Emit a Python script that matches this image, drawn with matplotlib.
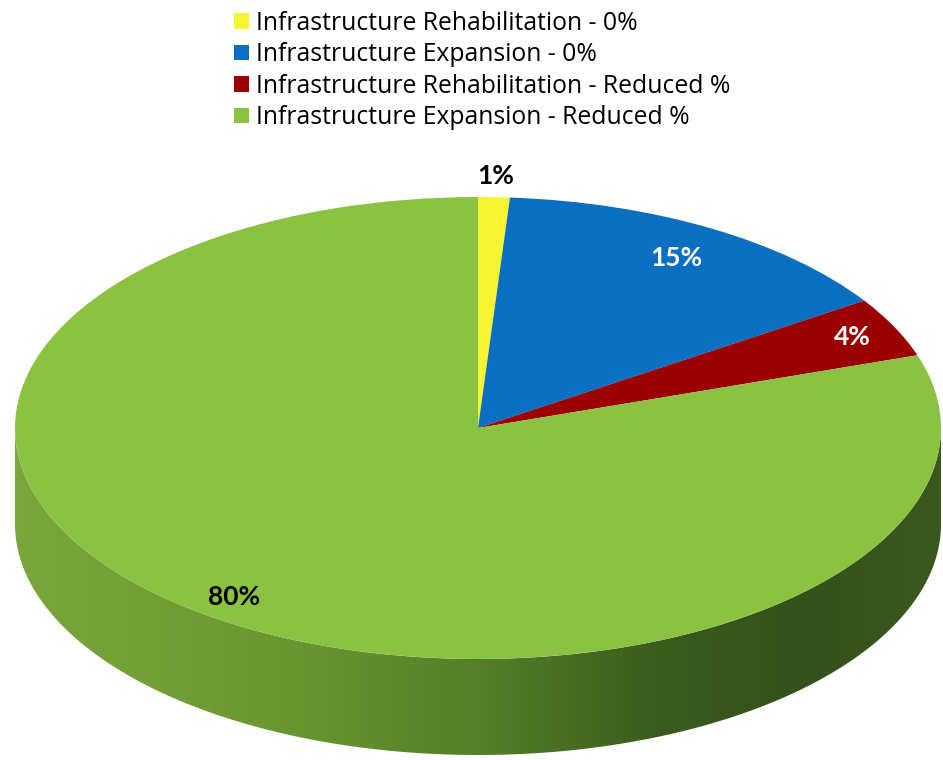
import matplotlib.pyplot as plt
import numpy as np
from matplotlib.colors import LinearSegmentedColormap
from matplotlib.patches import Polygon

# slice shares
labels = ['Infrastructure Rehabilitation - 0%',
          'Infrastructure Expansion - 0%',
          'Infrastructure Rehabilitation - Reduced %',
          'Infrastructure Expansion - Reduced %']
shares = [1.1, 14.6, 4.2, 80.1]
colors = ['#f7f531', '#0a6fc0', '#9a0000', '#8bc241']
label_colors = ['black', 'white', 'white', 'black']
label_radius = [1.09, 0.85, 0.9, 0.9]

W, H = 943, 760
fig = plt.figure(figsize=(W / 100, H / 100), dpi=100)
ax = fig.add_axes([0, 0, 1, 1])

# pixel geometry of the tilted pie
cx, cy = 478, 428
a, b = 463, 231
depth = 96 / b

wedges, texts, autotexts = ax.pie(
    shares, colors=colors, startangle=90, counterclock=False,
    autopct='%.0f%%', wedgeprops=dict(linewidth=0),
    textprops=dict(fontfamily='Lato', fontweight='bold', fontsize=19))
ax.set_aspect('auto')
ax.axis('off')

for w, t, r, c in zip(wedges, autotexts, label_radius, label_colors):
    w.set_zorder(3)
    mid = np.deg2rad((w.theta1 + w.theta2) / 2)
    t.set_position((r * np.cos(mid), r * np.sin(mid)))
    t.set_color(c)
    t.set_zorder(5)

# side of the cylinder (front half only), shaded left to right
t = np.linspace(np.pi, 2 * np.pi, 300)
top = np.column_stack([np.cos(t), np.sin(t)])
bot = np.column_stack([np.cos(t[::-1]), np.sin(t[::-1]) - depth])
side = Polygon(np.vstack([top, bot]), closed=True, facecolor='none',
               edgecolor='none', transform=ax.transData)
ax.add_patch(side)
cmap = LinearSegmentedColormap.from_list('side', [
    (0.0, '#7aa73b'), (0.3, '#6a9631'), (0.5, '#557f28'),
    (0.7, '#3b5b1e'), (0.85, '#34511b'), (1.0, '#3a581e')])
grad = np.linspace(0, 1, 512).reshape(1, -1)
im = ax.imshow(grad, cmap=cmap, aspect='auto', extent=(-1, 1, -1 - depth, 0),
               zorder=1, interpolation='bilinear')
im.set_clip_path(side)
ax.set_aspect('auto')
ax.set_xlim(-cx / a, (W - cx) / a)
ax.set_ylim(-(H - cy) / b, cy / b)

leg = fig.legend(wedges, labels, loc='upper left', bbox_to_anchor=(224 / W, 1 - 1 / H),
                 frameon=False, handlelength=0.6, handleheight=0.6,
                 handletextpad=0.3, labelspacing=0.26, borderaxespad=0,
                 prop=dict(family='Open Sans', size=17.8))

fig.savefig('out.png', dpi=100)
